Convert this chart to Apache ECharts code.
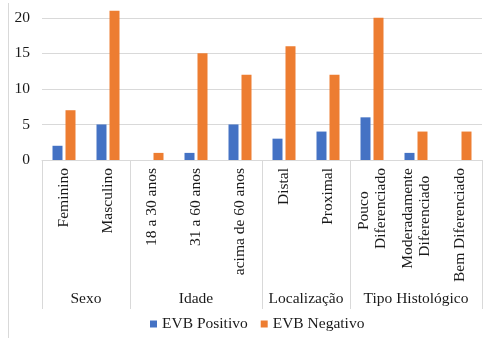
<!DOCTYPE html>
<html>
<head>
<meta charset="utf-8">
<script src="https://cdn.jsdelivr.net/npm/echarts@6/dist/echarts.min.js"></script>
<style>
  html, body { margin: 0; padding: 0; background: #fff; }
  #chart { width: 487px; height: 338px; }
</style>
</head>
<body>
<div id="chart"></div>
<script>
// Categories along the x axis, grouped by characteristic
const categories = [
  'Feminino', 'Masculino',
  '18 a 30 anos', '31 a 60 anos', 'acima de 60 anos',
  'Distal', 'Proximal',
  'Pouco\nDiferenciado', 'Moderadamente\nDiferenciado', 'Bem Diferenciado'
];
const groupNames = ['Sexo', 'Idade', 'Localização', 'Tipo Histológico'];
const groupSizes = [2, 3, 2, 3];

const seriesNames = ['EVB Positivo', 'EVB Negativo'];
const evbPositivo = [2, 5, 0, 1, 5, 3, 4, 6, 1, 0];
const evbNegativo = [7, 21, 1, 15, 12, 16, 12, 20, 4, 4];

const yTicks = [0, 5, 10, 15, 20];

// Group boundaries and centers, in category units
const groupEdges = [0];
groupSizes.forEach(s => groupEdges.push(groupEdges[groupEdges.length - 1] + s));
const groupCenters = groupSizes.map((s, i) => groupEdges[i] + s / 2);

const FONT = "Liberation Serif";
const FONT_SIZE = 15.5;
const LINE_H = 17;
const TEXT = '#1a1a1a';
const GRID_LINE = '#d9d9d9';

// Measure text so that the lines of a two-line category label can be centred
const measureCtx = document.createElement('canvas').getContext('2d');
measureCtx.font = FONT_SIZE + 'px "' + FONT + '", serif';
function textWidth(s) { return measureCtx.measureText(s).width; }
const SPACER = '\u2007'; // figure space, not collapsed
const spacerWidth = textWidth(SPACER) || FONT_SIZE * 0.5;

// Rotated labels are right-aligned at the axis; spaces at the end of the
// shorter line push it away from the axis so both lines share a centre.
function centreLines(value) {
  const lines = String(value).split('\n');
  if (lines.length === 1) return value;
  const widths = lines.map(textWidth);
  const maxW = Math.max.apply(null, widths);
  return lines.map((s, i) => {
    const n = Math.round((maxW - widths[i]) / 2 / spacerWidth);
    return s + SPACER.repeat(n);
  }).join('\n');
}
const axisCategories = categories.map(centreLines);

const chart = echarts.init(document.getElementById('chart'), null, { renderer: 'canvas' });

chart.setOption({
  animation: false,
  backgroundColor: '#fff',
  grid: { left: 42, right: 5, top: 0, bottom: 178, outerBoundsMode: 'none', containLabel: false },
  legend: {
    data: seriesNames,
    left: 145,
    top: 311,
    icon: 'rect',
    itemWidth: 7,
    itemHeight: 7,
    itemGap: 13,
    textStyle: { fontFamily: FONT, fontSize: FONT_SIZE, color: TEXT }
  },
  xAxis: [
    {
      type: 'category',
      data: axisCategories,
      boundaryGap: true,
      axisLine: { show: true, lineStyle: { color: GRID_LINE, width: 1 } },
      axisTick: { show: false },
      axisLabel: {
        interval: 0,
        rotate: 90,
        margin: 8,
        fontFamily: FONT,
        fontSize: FONT_SIZE,
        lineHeight: LINE_H,
        color: TEXT
      }
    },
    {
      type: 'value',
      min: 0,
      max: categories.length,
      position: 'bottom',
      splitLine: { show: false },
      axisLine: { show: false },
      axisTick: {
        show: true,
        customValues: groupEdges,
        length: 149,
        lineStyle: { color: GRID_LINE, width: 1 }
      },
      axisLabel: {
        customValues: groupCenters,
        margin: 131,
        fontFamily: FONT,
        fontSize: FONT_SIZE,
        color: TEXT,
        formatter: v => {
          const i = groupCenters.indexOf(v);
          return i >= 0 ? groupNames[i] : '';
        }
      }
    }
  ],
  yAxis: {
    type: 'value',
    min: 0,
    max: 22.5,
    interval: 5,
    axisLine: { show: false },
    axisTick: { show: false },
    splitLine: { showMaxLine: false, lineStyle: { color: GRID_LINE, width: 1 } },
    axisLabel: {
      margin: 12,
      fontFamily: FONT,
      fontSize: FONT_SIZE,
      color: TEXT,
      showMaxLabel: false,
      formatter: v => (yTicks.indexOf(v) >= 0 ? String(v) : '')
    }
  },
  series: [
    {
      name: seriesNames[0],
      type: 'bar',
      xAxisIndex: 0,
      data: evbPositivo,
      barWidth: 10,
      barGap: '30%',
      itemStyle: { color: '#4472C4' }
    },
    {
      name: seriesNames[1],
      type: 'bar',
      xAxisIndex: 0,
      data: evbNegativo,
      barWidth: 10,
      barGap: '30%',
      itemStyle: { color: '#ED7D31' }
    }
  ],
  graphic: [
    {
      type: 'line',
      shape: { x1: 8.5, y1: 3, x2: 8.5, y2: 338 },
      style: { stroke: GRID_LINE, lineWidth: 1 },
      silent: true
    }
  ]
});
</script>
</body>
</html>
